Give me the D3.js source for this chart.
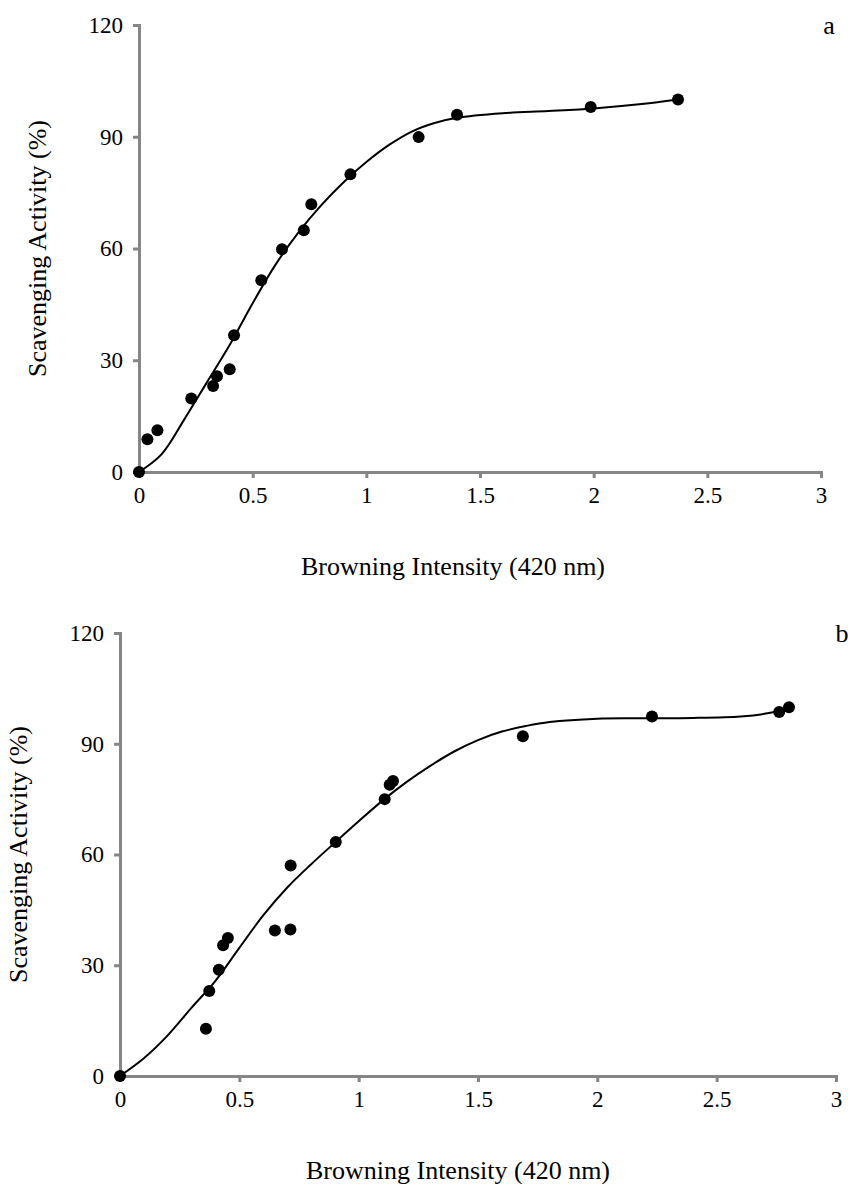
<!DOCTYPE html>
<html>
<head>
<meta charset="utf-8">
<script src="https://cdn.jsdelivr.net/npm/d3@7"></script>
<style>
  body { margin: 0; background: #fff; }
  svg text { font-family: "Liberation Serif", "Times New Roman", serif; fill: #000; }
</style>
</head>
<body>
<div id="chart"></div>
<script>
// --- data
const xTicks = [0, 0.5, 1, 1.5, 2, 2.5, 3];
const yTicks = [0, 30, 60, 90, 120];

// panel a : measured points
const aX = [0, 0.037, 0.081, 0.23, 0.326, 0.343, 0.399, 0.418, 0.538, 0.629, 0.725, 0.758, 0.93, 1.23, 1.399, 1.987, 2.371];
const aY = [0, 8.8, 11.2, 19.7, 23.1, 25.7, 27.6, 36.7, 51.5, 59.8, 64.9, 71.9, 79.9, 89.9, 95.9, 98.0, 100.0];
// panel a : trend line
const aFitX = [0, 0.1, 0.2, 0.3, 0.4, 0.5, 0.6, 0.7, 0.8, 0.9, 1.0, 1.1, 1.2, 1.3, 1.4, 1.6, 1.8, 2.0, 2.2, 2.371];
const aFitY = [0, 4.8, 14.2, 24.2, 34.2, 45.3, 55.6, 64.2, 71.5, 77.8, 83.2, 87.8, 91.4, 93.7, 95.1, 96.3, 96.9, 97.6, 98.7, 100.0];

// panel b : measured points
const bX = [0, 0.36, 0.374, 0.414, 0.432, 0.452, 0.649, 0.714, 0.715, 0.904, 1.109, 1.13, 1.144, 1.688, 2.229, 2.762, 2.803];
const bY = [0, 12.8, 23.0, 28.8, 35.4, 37.4, 39.4, 39.7, 57.0, 63.4, 75.0, 78.9, 79.9, 92.0, 97.4, 98.6, 99.9];
// panel b : trend line
const bFitX = [0, 0.1, 0.2, 0.3, 0.4, 0.5, 0.6, 0.7, 0.8, 0.9, 1.0, 1.1, 1.2, 1.3, 1.4, 1.5, 1.6, 1.7, 1.8, 2.0, 2.2, 2.4, 2.6, 2.7, 2.8];
const bFitY = [0, 4.8, 11.0, 18.5, 25.8, 34.7, 43.5, 51.0, 57.3, 63.2, 69.0, 74.6, 79.6, 84.0, 87.9, 91.0, 93.3, 94.8, 95.9, 96.8, 96.9, 97.0, 97.4, 98.1, 99.5];

const width = 853, height = 1184;

const svg = d3.select("#chart").append("svg")
    .attr("width", width)
    .attr("height", height);

function drawPanel(opt) {
    const x = d3.scaleLinear().domain([0, 3]).range([opt.left, opt.right]);
    const y = d3.scaleLinear().domain([0, 120]).range([opt.bottom, opt.top]);
    const g = svg.append("g");

    // axes
    const xAxis = g.append("g")
        .attr("transform", `translate(0,${opt.bottom})`)
        .call(d3.axisBottom(x).tickValues(xTicks).tickSize(6).tickPadding(9).tickFormat(d3.format("")));
    const yAxis = g.append("g")
        .attr("transform", `translate(${opt.left},0)`)
        .call(d3.axisLeft(y).tickValues(yTicks).tickSize(6).tickPadding(10));

    [xAxis, yAxis].forEach(a => {
        a.select(".domain").attr("stroke", "#868686").attr("stroke-width", 3);
        a.selectAll(".tick line").attr("stroke", "#868686").attr("stroke-width", 3);
        a.selectAll(".tick text")
            .style("font-family", '"Liberation Serif", serif')
            .style("font-size", "23px")
            .attr("fill", "#000");
    });

    // trend line
    const fit = opt.fitX.map((v, i) => [v, opt.fitY[i]]);
    g.append("path")
        .datum(fit)
        .attr("fill", "none")
        .attr("stroke", "#000")
        .attr("stroke-width", 2)
        .attr("d", d3.line().x(d => x(d[0])).y(d => y(d[1])).curve(d3.curveCatmullRom.alpha(0.5)));

    // points
    g.selectAll("circle")
        .data(opt.px.map((v, i) => [v, opt.py[i]]))
        .enter().append("circle")
        .attr("cx", d => x(d[0]))
        .attr("cy", d => y(d[1]))
        .attr("r", 6)
        .attr("fill", "#000");

    // titles
    g.append("text")
        .attr("x", opt.xTitleX)
        .attr("y", opt.bottom + 103)
        .attr("text-anchor", "middle")
        .style("font-size", "26px")
        .text("Browning Intensity (420 nm)");

    g.append("text")
        .attr("transform", `translate(${opt.yTitleX},${(opt.top + opt.bottom) / 2}) rotate(-90)`)
        .attr("text-anchor", "middle")
        .attr("dy", "0.35em")
        .style("font-size", "26px")
        .text("Scavenging Activity (%)");

    g.append("text")
        .attr("x", opt.tagX)
        .attr("y", opt.tagY)
        .attr("text-anchor", "middle")
        .style("font-size", "26px")
        .text(opt.tag);
}

drawPanel({
    left: 139, right: 821, top: 25, bottom: 472,
    px: aX, py: aY, fitX: aFitX, fitY: aFitY,
    xTitleX: 453, yTitleX: 37, tag: "a", tagX: 829, tagY: 34
});

drawPanel({
    left: 120, right: 836, top: 633, bottom: 1076,
    px: bX, py: bY, fitX: bFitX, fitY: bFitY,
    xTitleX: 458, yTitleX: 18, tag: "b", tagX: 842, tagY: 642
});
</script>
</body>
</html>
